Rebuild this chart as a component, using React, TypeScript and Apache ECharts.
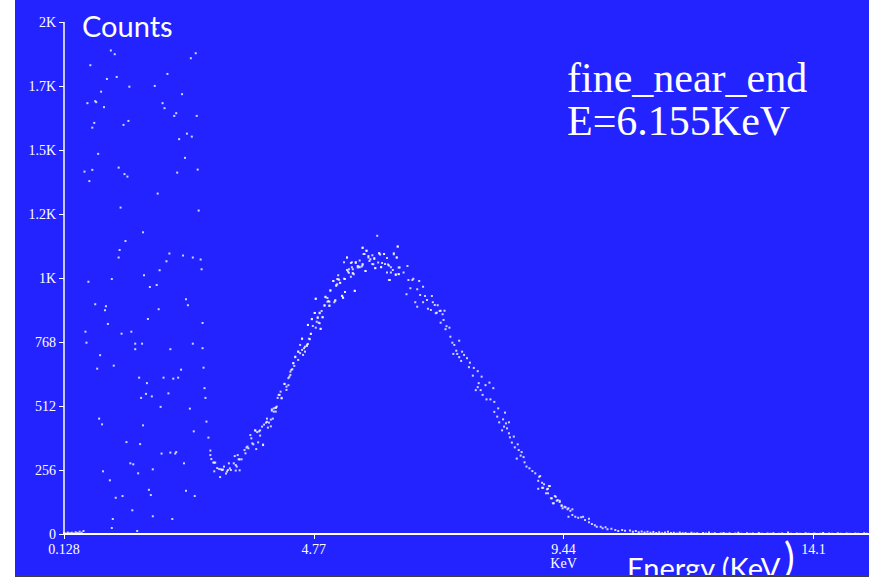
import React, { useEffect, useRef } from "react";
import * as echarts from "echarts";

// X axis is in channel numbers; labels give the energy (KeV) of each tick channel
const xTickChannels = [0, 256, 512, 768];
const xTickLabels = ["0.128", "4.77", "9.44\nKeV", "14.1"];
const yTickLabels = ["0", "256", "512", "768", "1K", "1.2K", "1.5K", "1.7K", "2K"];

// [channel, counts]
const lowStart: [number, number][] = [
  [0, 4], [2, 2], [4, 6], [6, 3], [8, 5], [10, 2], [12, 7], [14, 4], [16, 9], [18, 5],
];

const overflowScatter: [number, number][] = [
  [48, 1936], [52, 1921], [27, 1877], [135, 1925], [130, 1905], [106, 1842], [44, 1822], [54, 1830],
  [67, 1791], [93, 1794], [38, 1771], [121, 1761], [24, 1725], [32, 1733], [33, 1729], [41, 1709],
  [101, 1725], [103, 1705], [115, 1685], [113, 1674], [136, 1674], [31, 1646], [29, 1627], [61, 1638],
  [66, 1654], [126, 1603], [131, 1591], [118, 1581], [35, 1522], [124, 1506], [56, 1467], [62, 1441],
  [65, 1431], [21, 1451], [29, 1458], [116, 1447], [137, 1459], [26, 1413], [96, 1363], [94, 2021], [104, 2015],
  [58, 1307], [138, 1295], [81, 1208], [63, 1173], [57, 1137], [56, 1107], [108, 1123], [122, 1115],
  [132, 1107], [140, 1099], [105, 1092], [141, 1060], [98, 1056], [82, 1036], [49, 1021], [25, 1010],
  [95, 997], [88, 989], [125, 940], [127, 916], [32, 920], [43, 912], [42, 896], [97, 900], [86, 861],
  [45, 841], [142, 845], [22, 810], [59, 802], [69, 810], [23, 766], [73, 762], [80, 762], [132, 762],
  [73, 740], [109, 740], [142, 744], [37, 716], [51, 674], [34, 662], [120, 658], [143, 666], [77, 626],
  [102, 626], [112, 622], [117, 626], [85, 604], [144, 584], [84, 561], [90, 551], [107, 563], [79, 545],
  [145, 545], [99, 509], [129, 502], [36, 462], [39, 439], [81, 435], [146, 450], [133, 411], [64, 368],
  [78, 360], [100, 322], [109, 326], [114, 322], [115, 328], [68, 283], [71, 279], [123, 283], [40, 251],
  [76, 243], [91, 259], [47, 215], [87, 177], [89, 156], [125, 173], [53, 145], [60, 152], [134, 152],
  [70, 95], [50, 60], [91, 71], [111, 60], [49, 24], [75, 12], [20, 12],
];

const peakCurve: [number, number][] = [
  [148, 386], [150, 334], [150, 316], [151, 300], [153, 286], [154, 286], [155, 286], [154, 251],
  [157, 264], [159, 260], [160, 228], [161, 259], [162, 256], [163, 258], [164, 270], [166, 242],
  [167, 250], [168, 256], [169, 283], [170, 263], [171, 256], [174, 283], [175, 312], [176, 276],
  [176, 254], [177, 270], [178, 316], [179, 299], [180, 255], [180, 299], [182, 299], [185, 336],
  [186, 323], [187, 346], [188, 350], [189, 343], [191, 396], [192, 383], [193, 363], [194, 359],
  [196, 414], [196, 415], [197, 340], [198, 408], [199, 367], [200, 411], [201, 415], [201, 394],
  [203, 430], [204, 358], [204, 356], [205, 438], [207, 446], [208, 449], [208, 462], [209, 426],
  [210, 446], [212, 431], [212, 458], [213, 494], [214, 462], [215, 503], [217, 505], [217, 490],
  [218, 510], [220, 557], [223, 543], [226, 601], [228, 577], [231, 630], [233, 657], [235, 684],
  [237, 708], [240, 730], [242, 757], [244, 782], [247, 750], [249, 758], [250, 837], [251, 782],
  [253, 802], [254, 860], [257, 885], [258, 942], [260, 865], [262, 844], [262, 884], [263, 822],
  [265, 868], [267, 914], [268, 950], [271, 933], [272, 914], [273, 976], [276, 1013], [278, 934],
  [279, 996], [281, 1020], [283, 1006], [285, 953], [286, 946], [287, 1022], [288, 969], [290, 1107],
  [292, 1046], [294, 1085], [296, 1044], [298, 973], [299, 1089], [302, 1071], [305, 1071], [306, 1145],
  [307, 1121], [309, 1053], [310, 1135], [312, 1113], [314, 1100], [316, 1081], [318, 1105], [319, 1064],
  [321, 1194], [323, 1124], [325, 1069], [328, 1121], [331, 1105], [332, 1079], [333, 1017], [335, 1068],
  [338, 1124], [341, 1107], [342, 1151], [340, 1040], [343, 1041], [344, 1067], [348, 1047], [351, 960],
  [352, 1073], [353, 1017], [355, 984], [357, 1017], [358, 1022], [360, 928], [362, 980], [362, 910],
  [364, 1013], [365, 957], [368, 928], [368, 990], [370, 953], [372, 937], [373, 902], [376, 897],
  [377, 953], [378, 928], [380, 917], [381, 884], [382, 886], [383, 916], [385, 893], [386, 846],
  [386, 894], [388, 880], [389, 857], [390, 894], [391, 820], [392, 832], [395, 826], [396, 790],
  [398, 766], [399, 721], [400, 757], [402, 734], [403, 721], [405, 774], [405, 708], [407, 693],
  [408, 730], [410, 717], [413, 704], [415, 668], [416, 686], [419, 634], [420, 665], [422, 576],
  [424, 588], [424, 652], [425, 604], [427, 576], [428, 630], [429, 557], [432, 596], [433, 539],
  [436, 606], [437, 539], [440, 584], [441, 529], [441, 489], [444, 470], [445, 503], [446, 447],
  [449, 415], [450, 459], [451, 430], [452, 486], [453, 443], [454, 423], [456, 403], [456, 447],
  [457, 387], [459, 366], [461, 390], [462, 347], [464, 302], [465, 359], [466, 336], [468, 314],
  [469, 328], [471, 308], [472, 287], [474, 270], [477, 263], [480, 252], [483, 243], [486, 213],
  [486, 181], [487, 229], [488, 232], [490, 205], [490, 185], [491, 185], [492, 199], [494, 163],
  [495, 179], [496, 163], [496, 181], [497, 192], [498, 192], [499, 143], [500, 143], [501, 123],
  [502, 123], [503, 152], [504, 149], [505, 133], [506, 136], [508, 128], [508, 133], [510, 112],
  [510, 115], [511, 103], [513, 109], [514, 107], [516, 99], [517, 103], [517, 69], [519, 93],
  [521, 76], [521, 99], [524, 69], [527, 65], [530, 67], [532, 69], [534, 56], [538, 47], [538, 61],
  [541, 40], [544, 35], [546, 29], [550, 29], [552, 23], [555, 27], [557, 19], [561, 21], [565, 16],
  [568, 12], [572, 16], [575, 13],
];

const peakDense: [number, number][] = [
  [213, 499], [217, 506], [215, 490], [219, 545], [223, 545], [221, 557], [222, 570], [226, 601],
  [228, 590], [230, 596], [230, 624], [232, 637], [232, 650], [234, 660], [236, 673], [235, 684],
  [237, 710], [240, 697], [240, 730], [242, 724], [245, 717], [244, 737], [247, 730], [246, 744],
  [249, 753], [250, 761], [244, 782], [252, 780], [253, 801], [250, 837], [255, 833], [258, 826],
  [263, 821], [254, 861], [259, 850], [261, 846], [260, 868], [265, 868], [257, 885], [262, 886],
  [264, 893], [267, 916], [272, 914], [258, 942], [268, 948], [270, 945], [270, 930], [272, 930],
  [277, 928], [278, 936], [273, 974], [279, 994], [280, 1000], [283, 1005], [276, 1013], [280, 1021],
  [282, 1018], [281, 1036], [285, 954], [286, 946], [288, 969], [288, 1021], [291, 1051], [290, 1057],
  [292, 1060], [294, 1030], [296, 1044], [297, 1040], [296, 1060], [298, 974], [287, 1088], [290, 1107],
  [295, 1088], [299, 1085], [301, 1073], [303, 1068], [306, 1076], [303, 1095], [306, 1081], [309, 1053],
  [306, 1147], [308, 1121], [310, 1133], [312, 1107], [313, 1093], [316, 1116], [318, 1101], [317, 1080],
  [319, 1065], [322, 1087], [323, 1124], [324, 1119], [325, 1068], [328, 1121], [326, 1085], [329, 1081],
  [331, 1047], [333, 1075], [334, 1017], [335, 1047], [337, 1057], [338, 1120], [342, 1151], [340, 1037],
  [343, 1067], [341, 1107], [343, 1040], [301, 1067], [295, 1068],
];

const tail: [number, number][] = [
  [580, 14], [583, 9], [586, 12], [589, 7], [592, 10], [595, 6], [598, 9], [601, 5], [604, 8], [607, 4],
  [610, 7], [613, 3], [616, 6], [619, 9], [622, 4], [625, 5], [628, 2], [631, 6], [634, 3], [637, 4],
  [640, 1], [643, 5], [646, 2], [649, 3], [652, 0], [655, 4], [658, 2], [661, 6], [664, 1], [667, 3],
  [670, 0], [673, 2], [676, 4], [679, 1], [682, 3], [685, 0], [688, 2], [691, 5], [694, 1], [697, 0],
  [700, 3], [703, 1], [706, 2], [709, 0], [712, 4], [715, 1], [718, 0], [721, 2], [724, 1], [727, 3],
  [730, 0], [733, 1], [736, 2], [739, 0], [742, 6], [745, 1], [748, 0], [751, 2], [754, 1], [757, 0],
  [760, 3], [763, 1], [766, 0], [769, 2], [772, 0], [775, 1], [778, 4], [781, 0], [784, 2], [787, 1],
  [790, 0], [793, 3], [796, 1], [799, 0], [802, 2], [805, 1], [808, 0], [811, 2], [814, 1], [817, 0],
  [820, 3], [823, 1],
];

const BLUE = "#2323FF";

export default function App() {
  const ref = useRef<HTMLDivElement>(null);
  useEffect(() => {
    const chart = echarts.init(ref.current!, null, { renderer: "svg" });
    const allPoints = [...lowStart, ...overflowScatter, ...peakCurve, ...peakDense, ...tail];
    chart.setOption({
      animation: false,
      backgroundColor: BLUE,
      grid: { left: 64, right: 4, top: 22.5, bottom: 48, containLabel: false },
      xAxis: {
        type: "value",
        min: 0,
        max: 825,
        interval: 256,
        axisLine: { show: true, onZero: false, lineStyle: { color: "#fff", width: 2 } },
        axisTick: { show: true, length: 5, customValues: xTickChannels, lineStyle: { color: "#fff", width: 1 } },
        axisLabel: {
          color: "#fff",
          fontFamily: "Liberation Serif",
          fontSize: 14,
          margin: 8,
          lineHeight: 14,
          customValues: xTickChannels,
          formatter: (v: number) => {
            const i = xTickChannels.indexOf(Math.round(v));
            return i >= 0 ? xTickLabels[i] : "";
          },
        },
        splitLine: { show: false },
      },
      yAxis: {
        type: "value",
        min: 0,
        max: 2048,
        interval: 256,
        axisLine: { show: true, lineStyle: { color: "#fff", width: 1.5 } },
        axisTick: { show: true, length: 5, lineStyle: { color: "#fff", width: 1 } },
        axisLabel: {
          color: "#fff",
          fontFamily: "Liberation Serif",
          fontSize: 14,
          margin: 8,
          formatter: (v: number) => yTickLabels[Math.round(v / 256)] ?? "",
        },
        splitLine: { show: false },
      },
      series: [
        {
          type: "scatter",
          data: allPoints,
          symbol: "rect",
          symbolSize: 2,
          itemStyle: { color: "#ffffff" },
          silent: true,
        },
      ],
      graphic: [
        {
          type: "text", x: 82, y: 25.5, z: 50,
          style: { text: "Counts", fill: "#fff", fontFamily: "Lato", fontSize: 29, align: "left", verticalAlign: "middle" },
        },
        {
          type: "text", x: 567, y: 78, z: 50,
          style: { text: "fine_near_end", fill: "#fff", fontFamily: "Liberation Serif", fontSize: 42, align: "left", verticalAlign: "middle" },
        },
        {
          type: "text", x: 567, y: 121, z: 50,
          style: { text: "E=6.155KeV", fill: "#fff", fontFamily: "Liberation Serif", fontSize: 42, align: "left", verticalAlign: "middle" },
        },
        {
          type: "text", x: 627, y: 567, z: 50,
          style: { text: "Energy (KeV", fill: "#fff", fontFamily: "Lato", fontSize: 29, align: "left", verticalAlign: "middle" },
        },
        {
          type: "text", x: 784, y: 557, z: 50,
          style: { text: ")", fill: "#fff", fontFamily: "Lato", fontSize: 40, align: "left", verticalAlign: "middle" },
        },
        { type: "rect", z: 100, shape: { x: 0, y: 0, width: 15, height: 582 }, style: { fill: "#ffffff" } },
        { type: "rect", z: 100, shape: { x: 869, y: 0, width: 4, height: 582 }, style: { fill: "#ffffff" } },
        { type: "rect", z: 100, shape: { x: 0, y: 577, width: 873, height: 5 }, style: { fill: "#ffffff" } },
        { type: "rect", z: 100, shape: { x: 15, y: 575, width: 854, height: 2 }, style: { fill: "#3f3f3f" } },
      ],
    });
    return () => chart.dispose();
  }, []);
  return (
    <div
      ref={ref}
      style={{ position: "absolute", left: 0, top: 0, width: 873, height: 582 }}
    />
  );
}
